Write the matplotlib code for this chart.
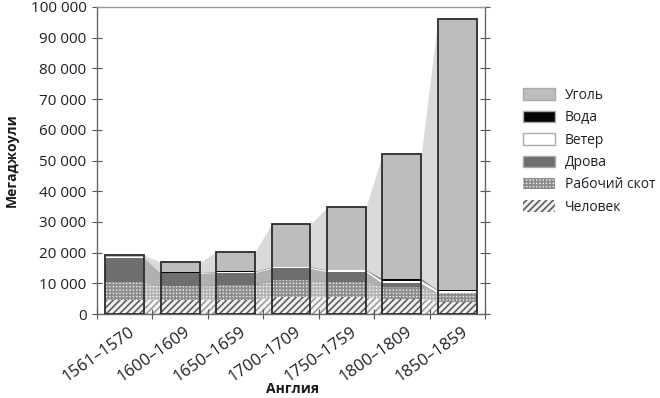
import numpy as np
import matplotlib
matplotlib.use("Agg")
import matplotlib.pyplot as plt
from matplotlib.patches import Patch
from matplotlib.ticker import FuncFormatter
from matplotlib.transforms import ScaledTranslation

plt.rcParams["font.family"] = ["Open Sans", "DejaVu Sans"]
plt.rcParams["hatch.linewidth"] = 1.2

periods = ["1561–1570", "1600–1609", "1650–1659", "1700–1709",
           "1750–1759", "1800–1809", "1850–1859"]

# megajoules per head
human = [4600, 4600, 4700, 5400, 5500, 5000, 4000]
animals = [5800, 4500, 4700, 5600, 5000, 3900, 2700]
firewood = [7900, 4200, 4100, 3900, 3300, 1100, 200]
wind = [300, 200, 200, 300, 400, 900, 700]
water = [100, 100, 200, 200, 200, 600, 200]
coal = [500, 3200, 6300, 13900, 20300, 40600, 88200]

series = [
    ("Человек", human, "#f0f0f0", "#5e5e5e", "/////"),
    ("Рабочий скот", animals, "#e2e2e2", "#8c8c8c", "+++++"),
    ("Дрова", firewood, "#6f6f6f", None, None),
    ("Ветер", wind, "white", None, None),
    ("Вода", water, "#050505", None, None),
    ("Уголь", coal, "#bdbdbd", None, None),
]

fig = plt.figure(figsize=(6.6, 3.98), dpi=100)
ax = fig.add_axes([97 / 660, 1 - 314 / 398, 388 / 660, 307 / 398])

centers = np.arange(len(periods)) + 0.5
width = 0.7
xs = np.ravel(np.column_stack([centers - width / 2, centers + width / 2]))

bottom = np.zeros(len(periods))
for name, vals, face, hcol, hatch in series:
    vals = np.array(vals, dtype=float)
    top = bottom + vals
    lo = np.repeat(bottom, 2)
    hi = np.repeat(top, 2)
    # band between the bars
    ax.fill_between(xs, lo, hi, color=face, alpha=0.55, lw=0, zorder=1)
    if hatch:
        ax.fill_between(xs, lo, hi, facecolor="none", edgecolor=hcol,
                        hatch=hatch, lw=0, alpha=0.6, zorder=1)
    ax.bar(centers, vals, width, bottom=bottom, color=face, lw=0, zorder=2)
    if hatch:
        ax.bar(centers, vals, width, bottom=bottom, facecolor="none",
               edgecolor=hcol, hatch=hatch, lw=0, zorder=2)
    bottom = top

totals = bottom
ax.bar(centers, totals, width, facecolor="none", edgecolor="#2b2b2b",
       lw=1.3, zorder=3)

ax.set_xlim(0, len(periods))
ax.set_ylim(0, 100000)
ax.set_yticks(np.arange(0, 100001, 10000))
ax.yaxis.set_major_formatter(FuncFormatter(lambda v, p: f"{int(v):,}".replace(",", " ")))
ax.set_xticks(np.arange(len(periods) + 1))
ax.set_xticklabels([])
ax.set_xticks(centers, minor=True)
ax.set_xticklabels(periods, minor=True, rotation=35, ha="right",
                   rotation_mode="anchor", fontsize=12, color="#1e1e2a")
ax.tick_params(axis="x", which="minor", length=0, pad=7)
ax.tick_params(axis="x", which="major", direction="inout", length=7,
               color="#555555")
ax.tick_params(axis="y", direction="inout", length=7, color="#555555",
               labelsize=11, labelcolor="#1e1e2a", right=True, pad=4)
for lab in ax.get_xticklabels(minor=True):
    lab.set_transform(lab.get_transform() + ScaledTranslation(3 / 72, 0, fig.dpi_scale_trans))
for sp in ax.spines.values():
    sp.set_color("#666666")
    sp.set_linewidth(1.0)
ax.spines["top"].set_color("#999999")

fig.text(12 / 660, 1 - 160 / 398, "Мегаджоули", rotation=90, ha="center",
         va="center", fontsize=10, fontweight="bold", color="#1a1a1a")
fig.text(293 / 660, 1 - 389 / 398, "Англия", ha="center", va="center",
         fontsize=10, fontweight="bold", color="#1a1a1a")

handles = []
for name, vals, face, hcol, hatch in reversed(series):
    if hatch:
        handles.append(Patch(facecolor=face, edgecolor=hcol, hatch=hatch,
                             label=name, lw=0))
    else:
        handles.append(Patch(facecolor=face, edgecolor="#aaaaaa", lw=1.0,
                             label=name))
ax.legend(handles=handles, loc="upper left",
          bbox_to_anchor=(523 / 660, 1 - 88 / 398),
          bbox_transform=fig.transFigure, frameon=False, fontsize=10,
          handlelength=2.3, handleheight=0.9, handletextpad=0.7,
          labelspacing=0.53, borderpad=0, borderaxespad=0,
          labelcolor="#1e1e2a")

fig.savefig("out.png", dpi=100)
